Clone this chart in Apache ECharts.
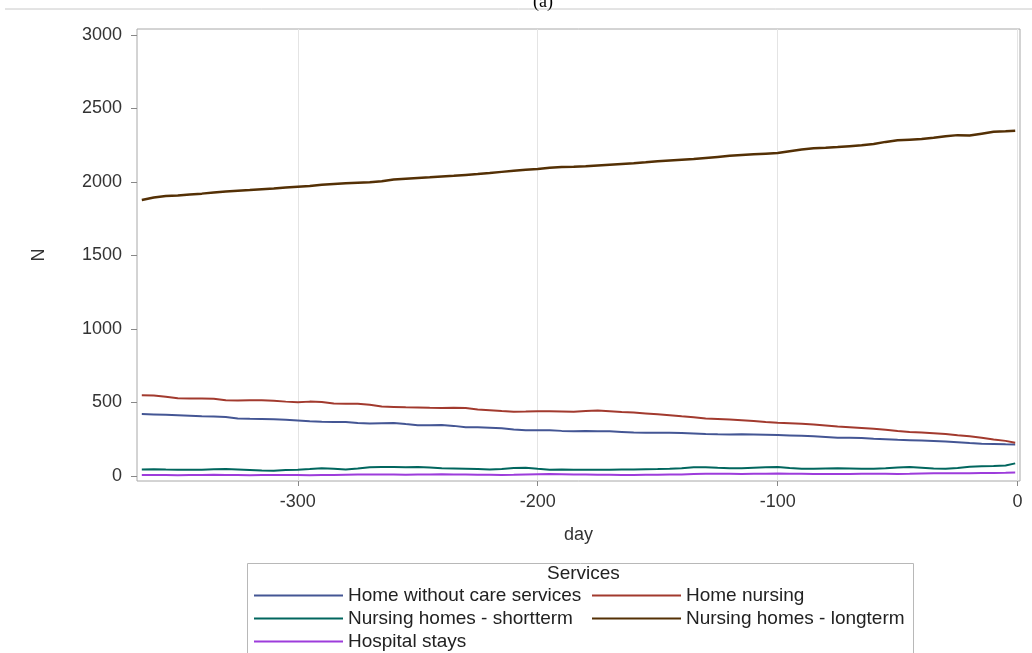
<!DOCTYPE html>
<html>
<head>
<meta charset="utf-8">
<script src="https://cdn.jsdelivr.net/npm/echarts@6/dist/echarts.min.js"></script>
<style>html,body{margin:0;padding:0;background:#fff;}#c{width:1032px;height:653px;}</style>
</head>
<body>
<div id="c"></div>
<script>
const days = [
  -365,-360,-355,-350,-345,-340,-335,-330,-325,-320,
  -315,-310,-305,-300,-295,-290,-285,-280,-275,-270,
  -265,-260,-255,-250,-245,-240,-235,-230,-225,-220,
  -215,-210,-205,-200,-195,-190,-185,-180,-175,-170,
  -165,-160,-155,-150,-145,-140,-135,-130,-125,-120,
  -115,-110,-105,-100,-95,-90,-85,-80,-75,-70,
  -65,-60,-55,-50,-45,-40,-35,-30,-25,-20,
  -15,-10,-5,-1
];
const homeWithout = [
  420,418,416,413,409,405,403,400,391,388,
  387,385,381,376,371,368,367,366,360,356,
  358,360,352,345,345,346,340,331,330,328,
  324,316,311,311,310,306,304,305,304,303,
  299,295,293,294,293,291,288,285,283,282,
  283,282,280,278,275,272,269,265,260,259,
  258,253,249,245,243,240,237,234,229,223,
  219,217,215,214
];
const homeNursing = [
  549,547,538,528,527,526,525,514,513,515,
  515,511,505,501,505,503,492,490,491,484,
  472,469,466,465,463,462,464,461,452,447,
  441,436,437,439,440,438,436,442,444,439,
  434,431,425,419,413,405,398,391,387,383,
  379,374,367,361,358,355,350,343,336,331,
  326,320,313,305,299,295,290,284,276,269,
  260,248,238,225
];
const shortTerm = [
  44,45,43,42,41,42,45,46,44,40,
  36,35,39,42,46,51,48,44,50,59,
  61,60,59,60,56,52,50,48,46,44,
  47,53,55,48,42,43,42,41,42,42,
  43,44,45,46,48,52,58,59,55,52,
  51,55,58,60,54,49,48,50,51,50,
  49,48,52,57,60,55,50,48,54,62,
  66,67,70,85
];
const longTerm = [
  1877,1893,1904,1908,1914,1920,1928,1935,1940,1944,
  1950,1955,1961,1967,1972,1980,1985,1990,1994,1998,
  2004,2016,2022,2027,2031,2036,2041,2047,2053,2060,
  2068,2076,2082,2088,2096,2102,2103,2106,2112,2117,
  2122,2127,2133,2140,2146,2151,2156,2163,2170,2177,
  2183,2188,2192,2196,2209,2220,2228,2232,2237,2243,
  2249,2257,2272,2283,2287,2291,2300,2310,2318,2315,
  2328,2341,2344,2348
];
const hospital = [
  5,6,5,4,5,6,7,6,5,4,
  5,6,6,5,4,5,6,8,9,10,
  10,9,8,9,10,11,10,9,8,7,
  6,7,9,11,12,11,10,9,8,7,
  6,6,7,8,9,10,12,14,15,14,
  13,14,15,16,15,14,13,12,12,13,
  14,15,14,13,14,16,18,18,17,18,
  19,20,21,22
];
const seriesNames = ['Home without care services','Home nursing','Nursing homes - shortterm','Nursing homes - longterm','Hospital stays'];
const seriesValues = [homeWithout, homeNursing, shortTerm, longTerm, hospital];
const colors = ['#445694','#A23A2E','#01665E','#543005','#9D3CDB'];
const xTicks = [-300,-200,-100,0];
const yTicks = [0,500,1000,1500,2000,2500,3000];

const FONT = 'Liberation Sans';
const legendPos = [
  {left:254, top:586},
  {left:592, top:586},
  {left:254, top:609},
  {left:592, top:609},
  {left:254, top:632}
];

const chart = echarts.init(document.getElementById('c'), null, {renderer:'canvas'});
chart.setOption({
  animation:false,
  backgroundColor:'#fff',
  title:{
    text:'(a)', left:528, top:-12,
    textStyle:{fontFamily:'Liberation Serif', fontSize:18, fontWeight:'normal', color:'#000'}
  },
  grid:{left:137, right:12, top:29, bottom:172, show:true, borderColor:'#A8A8A8', borderWidth:1, backgroundColor:'transparent'},
  xAxis:{
    type:'value', min:-367, max:1,
    name:'day', nameLocation:'middle', nameGap:45,
    nameTextStyle:{fontFamily:FONT, fontSize:18, color:'#333'},
    axisLine:{show:false, onZero:false},
    axisTick:{show:true, inside:false, length:5, lineStyle:{color:'#888'}, customValues:xTicks},
    axisLabel:{fontFamily:FONT, fontSize:18, color:'#333', margin:12, customValues:xTicks},
    splitLine:{show:true, lineStyle:{color:'#E4E4E4', width:1}}
  },
  yAxis:{
    type:'value', min:-35, max:3040,
    name:'N', nameLocation:'middle', nameGap:89, nameRotate:90,
    nameTextStyle:{fontFamily:FONT, fontSize:18, color:'#333'},
    axisLine:{show:false, onZero:false},
    axisTick:{show:true, inside:false, length:6, lineStyle:{color:'#888'}, customValues:yTicks},
    axisLabel:{fontFamily:FONT, fontSize:18, color:'#333', margin:15, customValues:yTicks,
      formatter:(v)=>String(v)},
    splitLine:{show:false}
  },
  legend: seriesNames.map((n,i)=>({
    data:[n], left:legendPos[i].left, top:legendPos[i].top, padding:0,
    icon:'rect', itemWidth:89, itemHeight:2, itemGap:8,
    textStyle:{fontFamily:FONT, fontSize:19, color:'#222'},
    selectedMode:false
  })),
  graphic:[
    {type:'line', shape:{x1:5, y1:9, x2:1032, y2:9}, style:{stroke:'#C8C8C8', lineWidth:1}, silent:true},
    {type:'rect', shape:{x:247.5, y:563.5, width:666, height:100}, style:{fill:'none', stroke:'#B8B8B8', lineWidth:1}, silent:true},
    {type:'text', left:547, top:564, style:{text:'Services', font:'19px "Liberation Sans"', fill:'#222'}, silent:true}
  ],
  series: seriesNames.map((n,i)=>({
    name:n, type:'line', symbol:'none', showSymbol:false,
    data: days.map((d,k)=>[d, seriesValues[i][k]]),
    lineStyle:{color:colors[i], width: i===3 ? 2.5 : 2},
    itemStyle:{color:colors[i]},
    z: 2
  }))
});
</script>
</body>
</html>
